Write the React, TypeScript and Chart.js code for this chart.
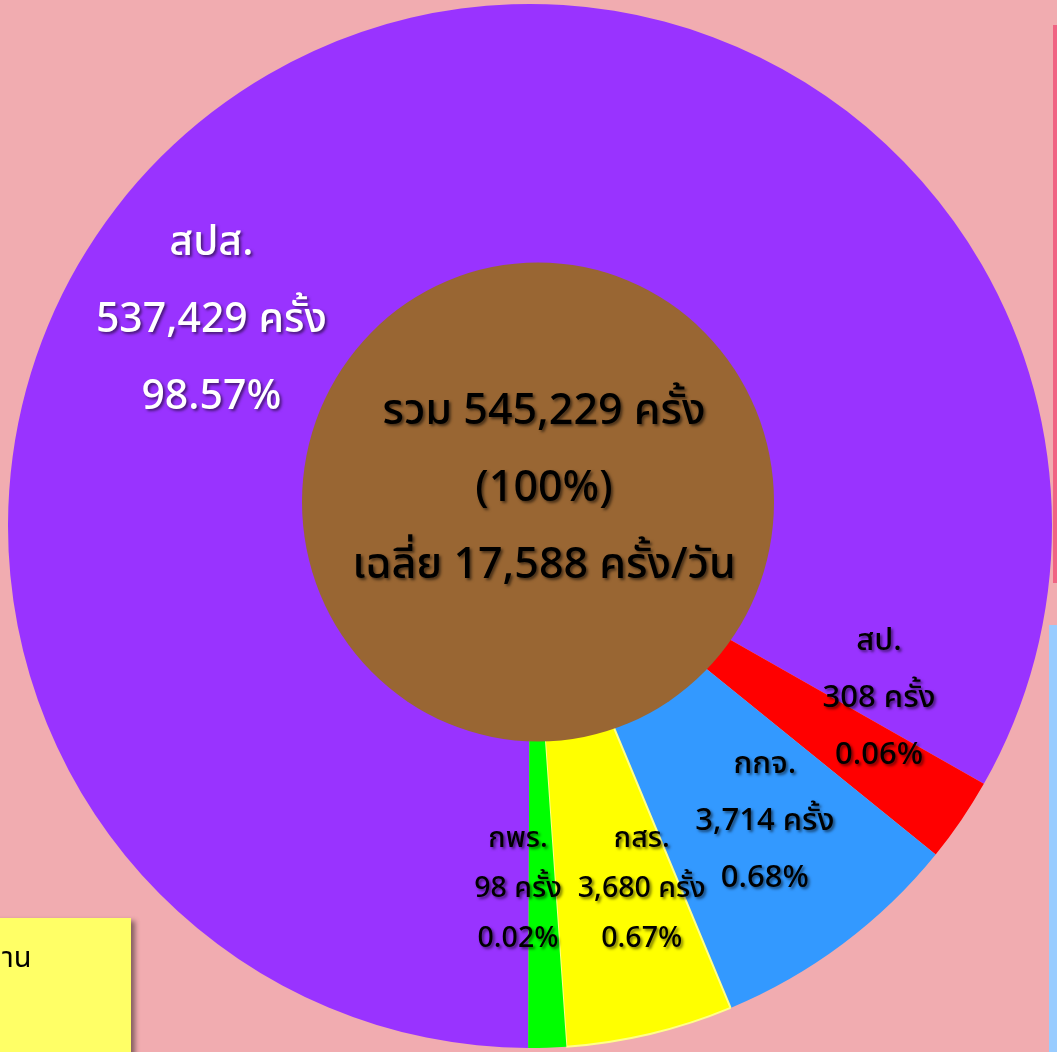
import React, { useEffect, useRef } from "react";
import { Chart, registerables } from "chart.js";

Chart.register(...registerables);

// ---- data ----
const categories = ["สปส.", "สป.", "กกจ.", "กสร.", "กพร."];
const counts = [537429, 308, 3714, 3680, 98];
const percentLabels = ["98.57%", "0.06%", "0.68%", "0.67%", "0.02%"];
// angular size (degrees) of each slice as drawn in the picture (small slices are enlarged there)
const sliceDegrees = [299.4, 9.4, 28.4, 18.6, 4.2];
const totalCount = 545229;
const totalPercent = "100%";
const dailyAverage = 17588;
const unitText = "ครั้ง";
const sideNoteText = "าน";

// ---- style / layout ----
const sliceColors = ["#9933FF", "#FF0000", "#3399FF", "#FFFF00", "#00FF00"];
const sliceBorderColors = ["#9933FF", "#FF0000", "#3399FF", "#FFFF88", "#00FF00"];
const sliceBorderWidths = [0, 0, 0, 2, 0];
const labelAngles = [302.9, 116.0, 141.4, 162.8, 181.9]; // degrees clockwise from top
const labelRadii = [0.727, 0.744, 0.721, 0.724, 0.692]; // fraction of outer radius
const labelFontSizes = [41, 31, 31, 28.5, 28.5];
const labelLineGaps = [77, 57, 57, 50, 50];
const labelColors = ["#FFFFFF", "#000000", "#000000", "#000000", "#000000"];
const FONT = '"Noto Sans Thai", "Leelawadee UI", Tahoma, "Noto Sans", sans-serif';
const WEIGHT = "500";

const fmt = (n: number) => n.toLocaleString("en-US");

const overlayPlugin = {
  id: "overlay",
  afterDatasetsDraw(chart: any) {
    const meta = chart.getDatasetMeta(0);
    const first: any = meta.data[0];
    if (!first) return;
    const cx = first.x;
    const cy = first.y;
    const R = first.outerRadius;
    const ctx: CanvasRenderingContext2D = chart.ctx;
    ctx.save();

    // brown hub
    const hx = cx + 8;
    const hy = cy - 24;
    ctx.beginPath();
    ctx.ellipse(hx, hy, 236, 239.5, 0, 0, Math.PI * 2);
    ctx.fillStyle = "#996633";
    ctx.fill();

    ctx.textAlign = "center";
    ctx.textBaseline = "middle";

    const drawLines = (lines: string[], x: number, y: number, gap: number, size: number, color: string) => {
      ctx.font = `${WEIGHT} ${size}px ${FONT}`;
      ctx.fillStyle = color;
      ctx.shadowColor = "rgba(0,0,0,0.55)";
      ctx.shadowOffsetX = 2;
      ctx.shadowOffsetY = 2;
      ctx.shadowBlur = 3;
      const n = lines.length;
      lines.forEach((t, i) => {
        ctx.fillText(t, x, y + 4 + (i - (n - 1) / 2) * gap);
      });
    };

    // centre text
    drawLines(
      [`รวม ${fmt(totalCount)} ${unitText}`, `(${totalPercent})`, `เฉลี่ย ${fmt(dailyAverage)} ${unitText}/วัน`],
      hx + 6,
      hy - 14,
      77,
      43,
      "#000000"
    );

    // slice labels
    categories.forEach((cat, i) => {
      const a = (labelAngles[i] * Math.PI) / 180;
      const r = labelRadii[i] * R;
      const x = cx + r * Math.sin(a);
      const y = cy - r * Math.cos(a);
      drawLines(
        [cat, `${fmt(counts[i])} ${unitText}`, percentLabels[i]],
        x,
        y,
        labelLineGaps[i],
        labelFontSizes[i],
        labelColors[i]
      );
    });

    ctx.restore();
  },
};

export default function App() {
  const canvasRef = useRef<HTMLCanvasElement | null>(null);

  useEffect(() => {
    const canvas = canvasRef.current;
    if (!canvas) return;
    const chart = new Chart(canvas, {
      type: "pie",
      data: {
        labels: categories,
        datasets: [
          {
            data: sliceDegrees,
            backgroundColor: sliceColors,
            borderColor: sliceBorderColors,
            borderWidth: sliceBorderWidths,
            hoverOffset: 0,
          } as any,
        ],
      },
      options: {
        animation: false,
        responsive: false,
        maintainAspectRatio: false,
        rotation: 180.2,
        radius: 522,
        events: [],
        layout: { padding: { left: 3 } },
        plugins: {
          legend: { display: false },
          tooltip: { enabled: false },
        },
      } as any,
      plugins: [overlayPlugin],
    });
    return () => chart.destroy();
  }, []);

  return (
    <div
      style={{
        position: "fixed",
        left: 0,
        top: 0,
        width: 1057,
        height: 1052,
        background: "#F1ACB0",
        overflow: "hidden",
      }}
    >
      <canvas
        ref={canvasRef}
        width={1057}
        height={1052}
        style={{ position: "absolute", left: 0, top: 0, width: 1057, height: 1052 }}
      />
      <div
        style={{
          position: "absolute",
          left: 1053,
          top: 25,
          width: 4,
          height: 558,
          background: "#F06383",
        }}
      />
      <div
        style={{
          position: "absolute",
          left: 1049,
          top: 625,
          width: 8,
          height: 427,
          background: "#99CCFF",
        }}
      />
      <div
        style={{
          position: "absolute",
          left: -10,
          top: 918,
          width: 141,
          height: 160,
          background: "#FFFF66",
          boxShadow: "4px 3px 5px rgba(0,0,0,0.45)",
          fontFamily: FONT,
          fontSize: 29,
          color: "#000",
        }}
      >
        <div style={{ position: "absolute", left: 12, top: 26, lineHeight: "1" }}>{sideNoteText}</div>
      </div>
    </div>
  );
}
